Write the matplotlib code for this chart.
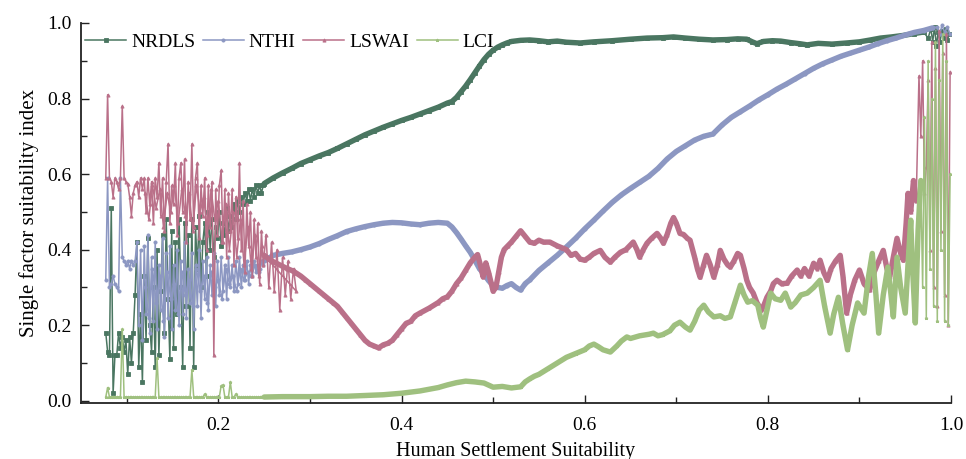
# ============================================================
# Single factor suitability index vs Human Settlement Suitability
# 4 series: NRDLS / NTHI / LSWAI / LCI
# ============================================================
import matplotlib
matplotlib.use('Agg')
import matplotlib.pyplot as plt

plt.rcParams['font.family'] = ['Liberation Serif', 'DejaVu Serif']

# colours
C_NRDLS = '#4a7661'; C_NTHI = '#8c97c2'; C_LSWAI = '#ba7089'; C_LCI = '#9fc07f'

# ---- noisy head (x < 0.25), shared x positions ----
XN = [0.077, 0.079, 0.081, 0.083, 0.085, 0.087, 0.089, 0.091, 0.093, 0.095,
      0.097, 0.099, 0.101, 0.103, 0.105, 0.107, 0.109, 0.111, 0.113, 0.115,
      0.117, 0.119, 0.121, 0.123, 0.125, 0.127, 0.129, 0.131, 0.133, 0.135,
      0.137, 0.139, 0.141, 0.143, 0.145, 0.147, 0.149, 0.151, 0.153, 0.155,
      0.157, 0.159, 0.161, 0.163, 0.165, 0.167, 0.169, 0.171, 0.173, 0.175,
      0.177, 0.179, 0.181, 0.183, 0.185, 0.187, 0.189, 0.191, 0.193, 0.195,
      0.197, 0.199, 0.201, 0.203, 0.205, 0.207, 0.209, 0.211, 0.213, 0.215,
      0.217, 0.219, 0.221, 0.223, 0.225, 0.227, 0.229, 0.231, 0.233, 0.235,
      0.237, 0.239, 0.241, 0.243, 0.245, 0.247, 0.249]

NRDLS_HEAD = [0.18, 0.13, 0.12, 0.51, 0.02, 0.12, 0.12, 0.18, 0.14, 0.17,
              0.13, 0.16, 0.07, 0.17, 0.10, 0.18, 0.28, 0.42, 0.09, 0.23,
              0.05, 0.33, 0.16, 0.43, 0.20, 0.13, 0.30, 0.09, 0.40, 0.12,
              0.29, 0.44, 0.18, 0.48, 0.27, 0.11, 0.45, 0.14, 0.42, 0.23,
              0.48, 0.30, 0.09, 0.47, 0.25, 0.44, 0.14, 0.48, 0.09, 0.46,
              0.35, 0.49, 0.30, 0.42, 0.47, 0.33, 0.50, 0.40, 0.48, 0.38,
              0.46, 0.43, 0.50, 0.41, 0.47, 0.44, 0.51, 0.45, 0.49, 0.46,
              0.52, 0.48, 0.53, 0.50, 0.54, 0.52, 0.55, 0.53, 0.56, 0.53,
              0.56, 0.54, 0.57, 0.55, 0.57, 0.55, 0.57]

NTHI_HEAD = [0.32, 0.59, 0.30, 0.31, 0.33, 0.31, 0.30, 0.29, 0.59, 0.38,
             0.37, 0.36, 0.37, 0.35, 0.37, 0.36, 0.37, 0.42, 0.20, 0.40,
             0.16, 0.41, 0.23, 0.44, 0.18, 0.38, 0.21, 0.42, 0.19, 0.36,
             0.24, 0.43, 0.17, 0.39, 0.22, 0.41, 0.19, 0.36, 0.24, 0.40,
             0.20, 0.37, 0.23, 0.42, 0.22, 0.35, 0.26, 0.39, 0.19, 0.36,
             0.25, 0.40, 0.22, 0.37, 0.27, 0.38, 0.24, 0.36, 0.28, 0.39,
             0.25, 0.37, 0.28, 0.38, 0.29, 0.36, 0.27, 0.38, 0.30, 0.36,
             0.29, 0.37, 0.31, 0.38, 0.30, 0.36, 0.32, 0.37, 0.31, 0.36,
             0.33, 0.37, 0.34, 0.36, 0.35, 0.37, 0.36]

LSWAI_HEAD = [0.59, 0.81, 0.59, 0.58, 0.54, 0.59, 0.58, 0.56, 0.59, 0.78,
              0.59, 0.58, 0.575, 0.54, 0.49, 0.55, 0.57, 0.58, 0.54, 0.59,
              0.56, 0.59, 0.50, 0.59, 0.52, 0.58, 0.47, 0.59, 0.54, 0.63,
              0.49, 0.59, 0.45, 0.58, 0.68, 0.47, 0.57, 0.52, 0.63, 0.44,
              0.59, 0.63, 0.50, 0.64, 0.42, 0.58, 0.48, 0.68, 0.46, 0.59,
              0.63, 0.43, 0.57, 0.49, 0.59, 0.40, 0.57, 0.46, 0.58, 0.12,
              0.56, 0.44, 0.57, 0.61, 0.42, 0.56, 0.38, 0.55, 0.45, 0.56,
              0.36, 0.54, 0.43, 0.63, 0.40, 0.53, 0.34, 0.52, 0.41, 0.50,
              0.33, 0.48, 0.38, 0.47, 0.31, 0.45, 0.36]

LCI_HEAD = [0.01, 0.035, 0.01, 0.01, 0.01, 0.01, 0.01, 0.01, 0.01, 0.19,
            0.01, 0.01, 0.01, 0.01, 0.01, 0.01, 0.01, 0.01, 0.01, 0.01,
            0.01, 0.01, 0.01, 0.01, 0.01, 0.01, 0.01, 0.01, 0.113, 0.01,
            0.01, 0.01, 0.01, 0.01, 0.01, 0.01, 0.01, 0.01, 0.01, 0.01,
            0.01, 0.01, 0.01, 0.01, 0.01, 0.01, 0.01, 0.082, 0.01, 0.01,
            0.01, 0.01, 0.01, 0.01, 0.018, 0.01, 0.01, 0.01, 0.01, 0.01,
            0.01, 0.01, 0.01, 0.04, 0.042, 0.01, 0.01, 0.01, 0.05, 0.01,
            0.01, 0.018, 0.01, 0.01, 0.01, 0.01, 0.01, 0.01, 0.01, 0.01,
            0.01, 0.01, 0.01, 0.01, 0.01, 0.01, 0.01]

# ---- second pass of the dense cloud (0.12 < x < 0.25), offsets between XN ----
XN2 = [0.120, 0.124, 0.128, 0.132, 0.136, 0.140, 0.144, 0.148, 0.152, 0.156,
       0.160, 0.164, 0.168, 0.172, 0.176, 0.180, 0.184, 0.188, 0.192, 0.196,
       0.200, 0.204, 0.208, 0.212, 0.216, 0.220, 0.224, 0.228, 0.232, 0.236,
       0.240, 0.244, 0.248]
NTHI_HEAD2 = [0.30, 0.22, 0.35, 0.26, 0.33, 0.21, 0.34, 0.27, 0.31, 0.23,
              0.34, 0.28, 0.32, 0.25, 0.35, 0.29, 0.33, 0.26, 0.34, 0.30,
              0.32, 0.27, 0.35, 0.31, 0.33, 0.29, 0.35, 0.32, 0.34, 0.33,
              0.36, 0.34, 0.37]
LSWAI_HEAD2 = [0.55, 0.48, 0.57, 0.51, 0.56, 0.46, 0.55, 0.50, 0.57, 0.47,
               0.56, 0.49, 0.55, 0.45, 0.57, 0.50, 0.54, 0.44, 0.56, 0.48,
               0.53, 0.42, 0.52, 0.40, 0.50, 0.38, 0.48, 0.36, 0.46, 0.35,
               0.44, 0.33, 0.41]

# ---- dense band part ----
NRDLS_X = [0.25, 0.26, 0.27, 0.28, 0.29, 0.30, 0.31, 0.32, 0.33, 0.34,
           0.35, 0.36, 0.37, 0.38, 0.39, 0.40, 0.41, 0.42, 0.43, 0.44,
           0.45, 0.455, 0.46, 0.465, 0.47, 0.475, 0.48, 0.485, 0.49, 0.495,
           0.50, 0.505, 0.51, 0.515, 0.52, 0.53, 0.54, 0.55, 0.56, 0.57,
           0.58, 0.595, 0.61, 0.63, 0.65, 0.668, 0.685, 0.697, 0.71, 0.725,
           0.74, 0.755, 0.767, 0.777, 0.783, 0.788, 0.795, 0.805, 0.814, 0.825,
           0.835, 0.843, 0.855, 0.87, 0.886, 0.9, 0.912, 0.923, 0.935, 0.948,
           0.96, 0.97]
NRDLS_Y = [0.575, 0.59, 0.603, 0.615, 0.628, 0.638, 0.648, 0.657, 0.668, 0.68,
           0.692, 0.704, 0.714, 0.724, 0.733, 0.742, 0.75, 0.759, 0.768, 0.777,
           0.788, 0.792, 0.803, 0.818, 0.833, 0.85, 0.868, 0.886, 0.903, 0.917,
           0.928, 0.936, 0.942, 0.947, 0.951, 0.954, 0.955, 0.953, 0.950, 0.952,
           0.949, 0.947, 0.950, 0.953, 0.957, 0.960, 0.961, 0.963, 0.960, 0.957,
           0.955, 0.956, 0.958, 0.957, 0.950, 0.945, 0.951, 0.953, 0.952, 0.948,
           0.945, 0.942, 0.946, 0.944, 0.947, 0.950, 0.955, 0.960, 0.963, 0.967,
           0.972, 0.976]

NTHI_X = [0.25, 0.26, 0.27, 0.28, 0.29, 0.30, 0.31, 0.32, 0.33, 0.34,
          0.35, 0.36, 0.37, 0.38, 0.39, 0.40, 0.41, 0.42, 0.43, 0.44,
          0.45, 0.455, 0.46, 0.465, 0.47, 0.475, 0.48, 0.485, 0.49, 0.495,
          0.50, 0.505, 0.51, 0.515, 0.52, 0.525, 0.53, 0.535, 0.54, 0.55,
          0.56, 0.57, 0.58, 0.59, 0.60, 0.61, 0.62, 0.63, 0.64, 0.65,
          0.66, 0.67, 0.68, 0.69, 0.70, 0.71, 0.72, 0.73, 0.74, 0.75,
          0.76, 0.77, 0.78, 0.79, 0.80, 0.81, 0.82, 0.83, 0.84, 0.85,
          0.86, 0.87, 0.88, 0.89, 0.90, 0.91, 0.92, 0.93, 0.94, 0.95,
          0.96, 0.97, 0.98]
NTHI_Y = [0.37, 0.385, 0.39, 0.394, 0.40, 0.407, 0.416, 0.427, 0.437, 0.448,
          0.455, 0.461, 0.466, 0.47, 0.472, 0.471, 0.468, 0.466, 0.47, 0.472,
          0.47, 0.46, 0.445, 0.428, 0.41, 0.393, 0.372, 0.35, 0.335, 0.318,
          0.305, 0.30, 0.298, 0.305, 0.31, 0.30, 0.293, 0.31, 0.32, 0.345,
          0.365, 0.385, 0.407, 0.43, 0.455, 0.478, 0.502, 0.525, 0.545, 0.562,
          0.578, 0.594, 0.615, 0.64, 0.66, 0.675, 0.69, 0.70, 0.706, 0.73,
          0.75, 0.765, 0.78, 0.796, 0.81, 0.825, 0.838, 0.852, 0.866, 0.88,
          0.892, 0.902, 0.912, 0.92, 0.928, 0.936, 0.945, 0.953, 0.96, 0.968,
          0.975, 0.98, 0.987]

# LSWAI still scattered right after the head
LSWAI_MID_X = [0.252, 0.255, 0.258, 0.261, 0.264, 0.267, 0.270, 0.273, 0.276, 0.279,
               0.282, 0.285]
LSWAI_MID_Y = [0.44, 0.30, 0.42, 0.29, 0.40, 0.24, 0.38, 0.28, 0.37, 0.27,
               0.35, 0.29]
LSWAI_X = [0.25, 0.255, 0.26, 0.265, 0.27, 0.275, 0.28, 0.285,
           0.29, 0.295, 0.30, 0.305, 0.31, 0.315, 0.32, 0.325, 0.33, 0.335,
           0.34, 0.345, 0.35, 0.355, 0.36, 0.365, 0.37, 0.375, 0.38, 0.385,
           0.39, 0.395, 0.40, 0.405, 0.41, 0.415, 0.42, 0.43, 0.44, 0.445,
           0.45, 0.455, 0.46, 0.465, 0.47, 0.475, 0.48, 0.483, 0.486, 0.489,
           0.492, 0.495, 0.50, 0.503, 0.506, 0.509, 0.512, 0.516, 0.52, 0.525,
           0.53, 0.535, 0.54, 0.545, 0.55, 0.555, 0.562, 0.57, 0.575, 0.58,
           0.585, 0.59, 0.595, 0.60, 0.605, 0.61, 0.617, 0.622, 0.628, 0.633,
           0.639, 0.645, 0.653, 0.657, 0.66, 0.664, 0.668, 0.673, 0.679, 0.683,
           0.686, 0.69, 0.694, 0.697, 0.70, 0.704, 0.708, 0.712, 0.715, 0.72,
           0.723, 0.726, 0.73, 0.733, 0.737, 0.741, 0.745, 0.748, 0.752, 0.756,
           0.759, 0.763, 0.767, 0.77, 0.774, 0.777, 0.78, 0.784, 0.788, 0.793,
           0.796, 0.799, 0.803, 0.806, 0.81, 0.815, 0.821, 0.826, 0.832, 0.836,
           0.84, 0.845, 0.85, 0.854, 0.857, 0.861, 0.865, 0.869, 0.874, 0.879,
           0.882, 0.886, 0.89, 0.895, 0.90, 0.905, 0.911, 0.916, 0.921, 0.926,
           0.93, 0.933, 0.937, 0.941, 0.945, 0.948, 0.951, 0.953, 0.956, 0.959,
           0.962]
LSWAI_Y = [0.385, 0.375, 0.368, 0.362, 0.356, 0.35, 0.345, 0.338,
           0.33, 0.32, 0.31, 0.30, 0.29, 0.28, 0.27, 0.26, 0.25, 0.235,
           0.22, 0.205, 0.19, 0.175, 0.16, 0.15, 0.145, 0.14, 0.148, 0.152,
           0.16, 0.175, 0.19, 0.205, 0.21, 0.225, 0.232, 0.245, 0.26, 0.27,
           0.275, 0.29, 0.31, 0.325, 0.345, 0.365, 0.38, 0.387, 0.36, 0.328,
           0.365, 0.34, 0.29, 0.30, 0.34, 0.38, 0.40, 0.41, 0.42, 0.435,
           0.45, 0.435, 0.42, 0.417, 0.425, 0.42, 0.42, 0.41, 0.405, 0.40,
           0.385, 0.39, 0.375, 0.372, 0.38, 0.39, 0.398, 0.38, 0.367, 0.38,
           0.393, 0.40, 0.42, 0.40, 0.38, 0.40, 0.417, 0.43, 0.443, 0.43,
           0.417, 0.44, 0.47, 0.485, 0.47, 0.443, 0.44, 0.43, 0.425, 0.38,
           0.35, 0.327, 0.36, 0.385, 0.36, 0.327, 0.36, 0.398, 0.375, 0.36,
           0.354, 0.37, 0.39, 0.385, 0.35, 0.319, 0.30, 0.285, 0.26, 0.24,
           0.255, 0.274, 0.29, 0.31, 0.319, 0.31, 0.311, 0.33, 0.346, 0.33,
           0.35, 0.33, 0.364, 0.35, 0.372, 0.34, 0.319, 0.35, 0.37, 0.385,
           0.33, 0.232, 0.28, 0.32, 0.346, 0.31, 0.293, 0.34, 0.37, 0.398,
           0.35, 0.327, 0.38, 0.43, 0.39, 0.372, 0.47, 0.549, 0.50, 0.583,
           0.53]

LCI_X = [0.25, 0.27, 0.30, 0.32, 0.34, 0.36, 0.38, 0.40, 0.42, 0.44,
         0.45, 0.46, 0.47, 0.48, 0.49, 0.50, 0.51, 0.52, 0.53, 0.535,
         0.54, 0.545, 0.55, 0.56, 0.57, 0.58, 0.59, 0.60, 0.605, 0.61,
         0.615, 0.62, 0.628, 0.635, 0.64, 0.646, 0.65, 0.66, 0.67, 0.675,
         0.68, 0.685, 0.693, 0.698, 0.704, 0.71, 0.715, 0.72, 0.725, 0.73,
         0.735, 0.741, 0.748, 0.753, 0.759, 0.764, 0.77, 0.774, 0.778, 0.783,
         0.789, 0.792, 0.795, 0.799, 0.803, 0.808, 0.814, 0.819, 0.825, 0.83,
         0.836, 0.843, 0.85, 0.857, 0.862, 0.868, 0.872, 0.877, 0.882, 0.887,
         0.892, 0.898, 0.905, 0.91, 0.914, 0.918, 0.921, 0.926, 0.931, 0.934,
         0.937, 0.941, 0.945, 0.95, 0.953, 0.956, 0.958, 0.961, 0.964, 0.967]
LCI_Y = [0.01, 0.011, 0.011, 0.012, 0.012, 0.014, 0.016, 0.02, 0.026, 0.035,
         0.042, 0.048, 0.052, 0.05, 0.047, 0.036, 0.038, 0.034, 0.037, 0.05,
         0.058, 0.065, 0.07, 0.085, 0.10, 0.115, 0.125, 0.135, 0.145, 0.15,
         0.143, 0.135, 0.129, 0.145, 0.158, 0.169, 0.165, 0.172, 0.176, 0.179,
         0.172, 0.175, 0.185, 0.20, 0.208, 0.195, 0.187, 0.21, 0.24, 0.253,
         0.235, 0.222, 0.225, 0.218, 0.222, 0.26, 0.306, 0.28, 0.261, 0.265,
         0.253, 0.22, 0.195, 0.24, 0.285, 0.27, 0.266, 0.285, 0.248, 0.26,
         0.28, 0.285, 0.30, 0.319, 0.25, 0.179, 0.23, 0.274, 0.20, 0.135,
         0.20, 0.259, 0.232, 0.33, 0.39, 0.28, 0.179, 0.28, 0.354, 0.29,
         0.222, 0.38, 0.30, 0.232, 0.36, 0.478, 0.35, 0.206, 0.45, 0.583]

# ---- scattered tail near x = 1 ----
NRDLS_TAIL_X = [0.975, 0.978, 0.980, 0.982, 0.984, 0.986, 0.988, 0.990, 0.992, 0.994, 0.996, 0.998]
NRDLS_TAIL_Y = [0.96, 0.985, 0.95, 0.99, 0.94, 0.975, 0.95, 0.98, 0.96, 0.985, 0.955, 0.97]
NTHI_TAIL_X = [0.985, 0.988, 0.990, 0.993, 0.996, 0.999]
NTHI_TAIL_Y = [0.99, 0.97, 0.995, 0.975, 0.99, 0.97]
LSWAI_TAIL_X = [0.965, 0.967, 0.969, 0.971, 0.973, 0.975, 0.977, 0.979, 0.981, 0.983,
                0.985, 0.987, 0.989, 0.991, 0.993, 0.995, 0.997, 0.999]
LSWAI_TAIL_Y = [0.86, 0.70, 0.90, 0.55, 0.62, 0.85, 0.40, 0.95, 0.30, 0.88,
                0.25, 0.98, 0.45, 0.92, 0.28, 0.97, 0.20, 0.87]
LCI_TAIL_X = [0.969, 0.971, 0.973, 0.975, 0.977, 0.979, 0.981, 0.983, 0.985, 0.987,
              0.989, 0.991, 0.993, 0.995, 0.997, 0.999]
LCI_TAIL_Y = [0.30, 0.75, 0.22, 0.90, 0.35, 0.80, 0.25, 0.95, 0.21, 0.85,
              0.40, 0.97, 0.21, 0.90, 0.20, 0.60]


def draw(ax, head, mid_x, mid_y, band_x, band_y, tail_x, tail_y, color, marker, label, z,
         head2=None):
    xs = XN + mid_x + band_x + tail_x
    ys = head + mid_y + band_y + tail_y
    # 稀疏部分: 细线 + 小标记
    ax.plot(xs, ys, color=color, lw=1.1, marker=marker, ms=2.3, mew=0.6,
            label=label, zorder=z)
    if head2 is not None:
        ax.plot(XN2, head2, color=color, lw=1.1, marker=marker, ms=2.3, mew=0.6, zorder=z)
    # 密集部分: 粗带
    ax.plot(band_x, band_y, color=color, lw=3.9, solid_joinstyle='round',
            solid_capstyle='round', zorder=z)


fig = plt.figure(figsize=(9.66, 4.59), dpi=100)
ax = fig.add_axes([0.0839, 0.1227, 0.9006, 0.8273])

draw(ax, NRDLS_HEAD, [], [], NRDLS_X, NRDLS_Y, NRDLS_TAIL_X, NRDLS_TAIL_Y, C_NRDLS, 's', 'NRDLS', 2)
draw(ax, NTHI_HEAD, [], [], NTHI_X, NTHI_Y, NTHI_TAIL_X, NTHI_TAIL_Y, C_NTHI, 'o', 'NTHI', 3,
     head2=NTHI_HEAD2)
draw(ax, LSWAI_HEAD, LSWAI_MID_X, LSWAI_MID_Y, LSWAI_X, LSWAI_Y, LSWAI_TAIL_X, LSWAI_TAIL_Y,
     C_LSWAI, '^', 'LSWAI', 4, head2=LSWAI_HEAD2)
draw(ax, LCI_HEAD, [], [], LCI_X, LCI_Y, LCI_TAIL_X, LCI_TAIL_Y, C_LCI, '*', 'LCI', 5)

ax.set_xlim(0.05, 1.0)
ax.set_ylim(-0.005, 1.0)
ax.set_xticks([0.2, 0.4, 0.6, 0.8, 1.0])
ax.set_xticks([0.1, 0.3, 0.5, 0.7, 0.9], minor=True)
ax.set_yticks([0.0, 0.2, 0.4, 0.6, 0.8, 1.0])
ax.set_yticks([0.1, 0.3, 0.5, 0.7, 0.9], minor=True)
ax.tick_params(which='major', direction='in', length=6, width=1, labelsize=14, color='#222222')
ax.tick_params(axis='x', which='major', pad=10)
ax.tick_params(axis='y', which='major', pad=7)
ax.tick_params(which='minor', direction='in', length=4, width=1, color='#222222')
ax.spines['top'].set_visible(False); ax.spines['right'].set_visible(False)
for s in ('left', 'bottom'):
    ax.spines[s].set_linewidth(1.3); ax.spines[s].set_color('#222222')

ax.set_xlabel('Human Settlement Suitability', fontsize=14.5, labelpad=6)
ax.set_ylabel('Single factor suitability index', fontsize=15, labelpad=6)

ax.legend(loc='upper left', bbox_to_anchor=(0.005, 0.972), ncol=4, frameon=False,
          fontsize=14, handlelength=2.1, handletextpad=0.25, columnspacing=0.4,
          borderpad=0, borderaxespad=0)

fig.savefig('out.png', dpi=100, facecolor='white')
plt.close()
